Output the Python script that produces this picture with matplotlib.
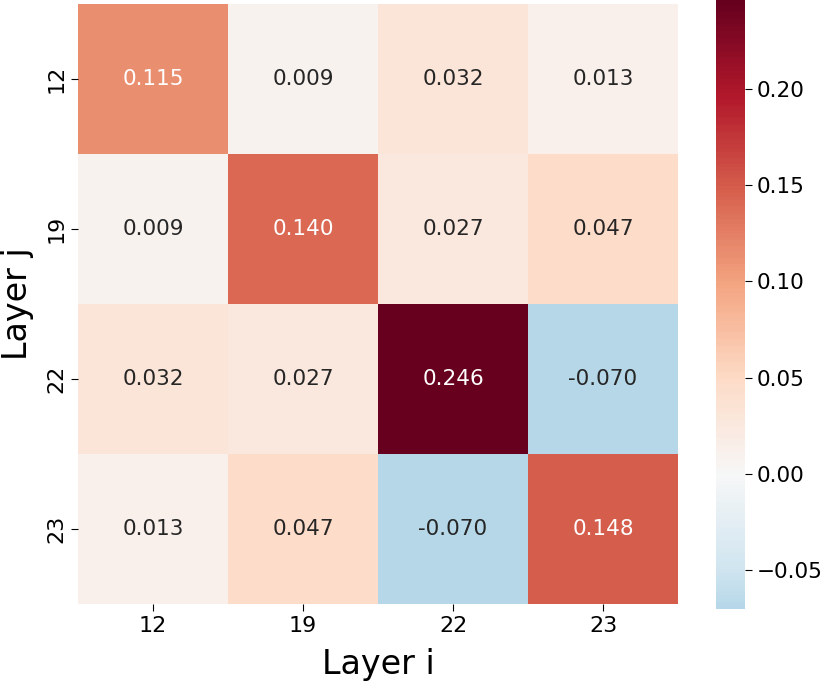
import numpy as np
import matplotlib
matplotlib.use("Agg")
import matplotlib.pyplot as plt
import seaborn as sns

layers = ["12", "19", "22", "23"]
row_12 = [0.115, 0.009, 0.032, 0.013]
row_19 = [0.009, 0.140, 0.027, 0.047]
row_22 = [0.032, 0.027, 0.246, -0.070]
row_23 = [0.013, 0.047, -0.070, 0.148]

values = np.array([row_12, row_19, row_22, row_23])

W, H = 830, 683
fig = plt.figure(figsize=(W / 100, H / 100), dpi=100)
# heatmap square, colorbar a bit taller (cropped layout)
ax = fig.add_axes([78 / W, (H - 604) / H, 600 / W, 600 / H])
cax = fig.add_axes([716 / W, (H - 609) / H, 29 / W, 609 / H])

sns.heatmap(
    values,
    ax=ax,
    cbar_ax=cax,
    cmap="RdBu_r",
    center=0,
    annot=True,
    fmt=".3f",
    annot_kws={"fontsize": 15.5},
    xticklabels=layers,
    yticklabels=layers,
)

ax.set_xlabel("Layer i", fontsize=24, labelpad=9)
ax.set_ylabel("Layer j", fontsize=24, labelpad=9)
ax.tick_params(axis="both", labelsize=16, length=5)
cax.tick_params(labelsize=15.5, length=5)

fig.savefig("out.png", dpi=100)
